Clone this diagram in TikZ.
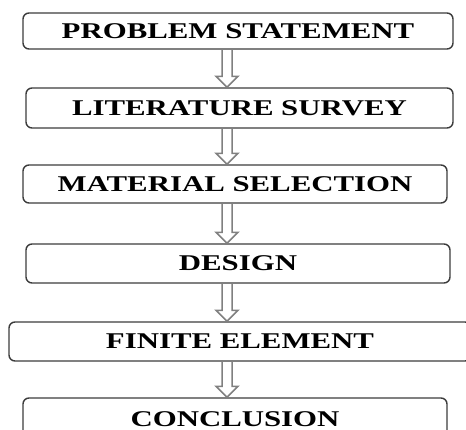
\documentclass[tikz,border=0pt]{standalone}
\usepackage{fontspec}
\setmainfont{Liberation Serif}[FakeStretch=1.37]
\usetikzlibrary{calc}
\definecolor{boxGray}{HTML}{3C3C3C}
\definecolor{arrowGray}{HTML}{808080}

\begin{document}
\begin{tikzpicture}
[x=1pt,y=-1pt,%
  boxDecorate/.style={shape=rectangle,rounded corners=6pt,draw=boxGray,line width=1.4pt,inner sep=0pt,%
    font=\fontsize{22.5}{24}\selectfont\bfseries},%
  arrowDecorate/.style={draw=arrowGray,line width=1.5pt,line join=miter,%
    to path={let \p1=(\tikztostart), \p2=(\tikztotarget) in
      (\x1-5pt,\y1) -- (\x1-5pt,\y2+11pt) -- (\x1-11pt,\y2+11pt) -- (\x1,\y2)
      -- (\x1+11pt,\y2+11pt) -- (\x1+5pt,\y2+11pt) -- (\x1+5pt,\y1)}}]
\useasboundingbox (0,0) rectangle (466,430);
\clip (0,0) rectangle (466,430);
%% boxes
\foreach \nodename/\x/\y/\w/\h/\boxtext in {problem/238/31/430/36/PROBLEM STATEMENT,
  survey/239.5/108/427/40/LITERATURE SURVEY, material/235/184/424/38/MATERIAL SELECTION,
  design/238/263.5/424/39/DESIGN, finite/240/341.5/462/39/FINITE ELEMENT,
  conclusion/235/419/424/42/CONCLUSION}
{
  \node (\nodename) at (\x,\y) [boxDecorate,minimum width=\w pt,minimum height=\h pt] {\boxtext};
}
%% arrows
\coordinate (axis) at (227,0);
\path
\foreach \startnode/\endnode in {problem/survey, survey/material, material/design,
  design/finite, finite/conclusion}
{
  (\startnode.south -| axis) edge[arrowDecorate] (\endnode.north -| axis)
};
\end{tikzpicture}
\end{document}
